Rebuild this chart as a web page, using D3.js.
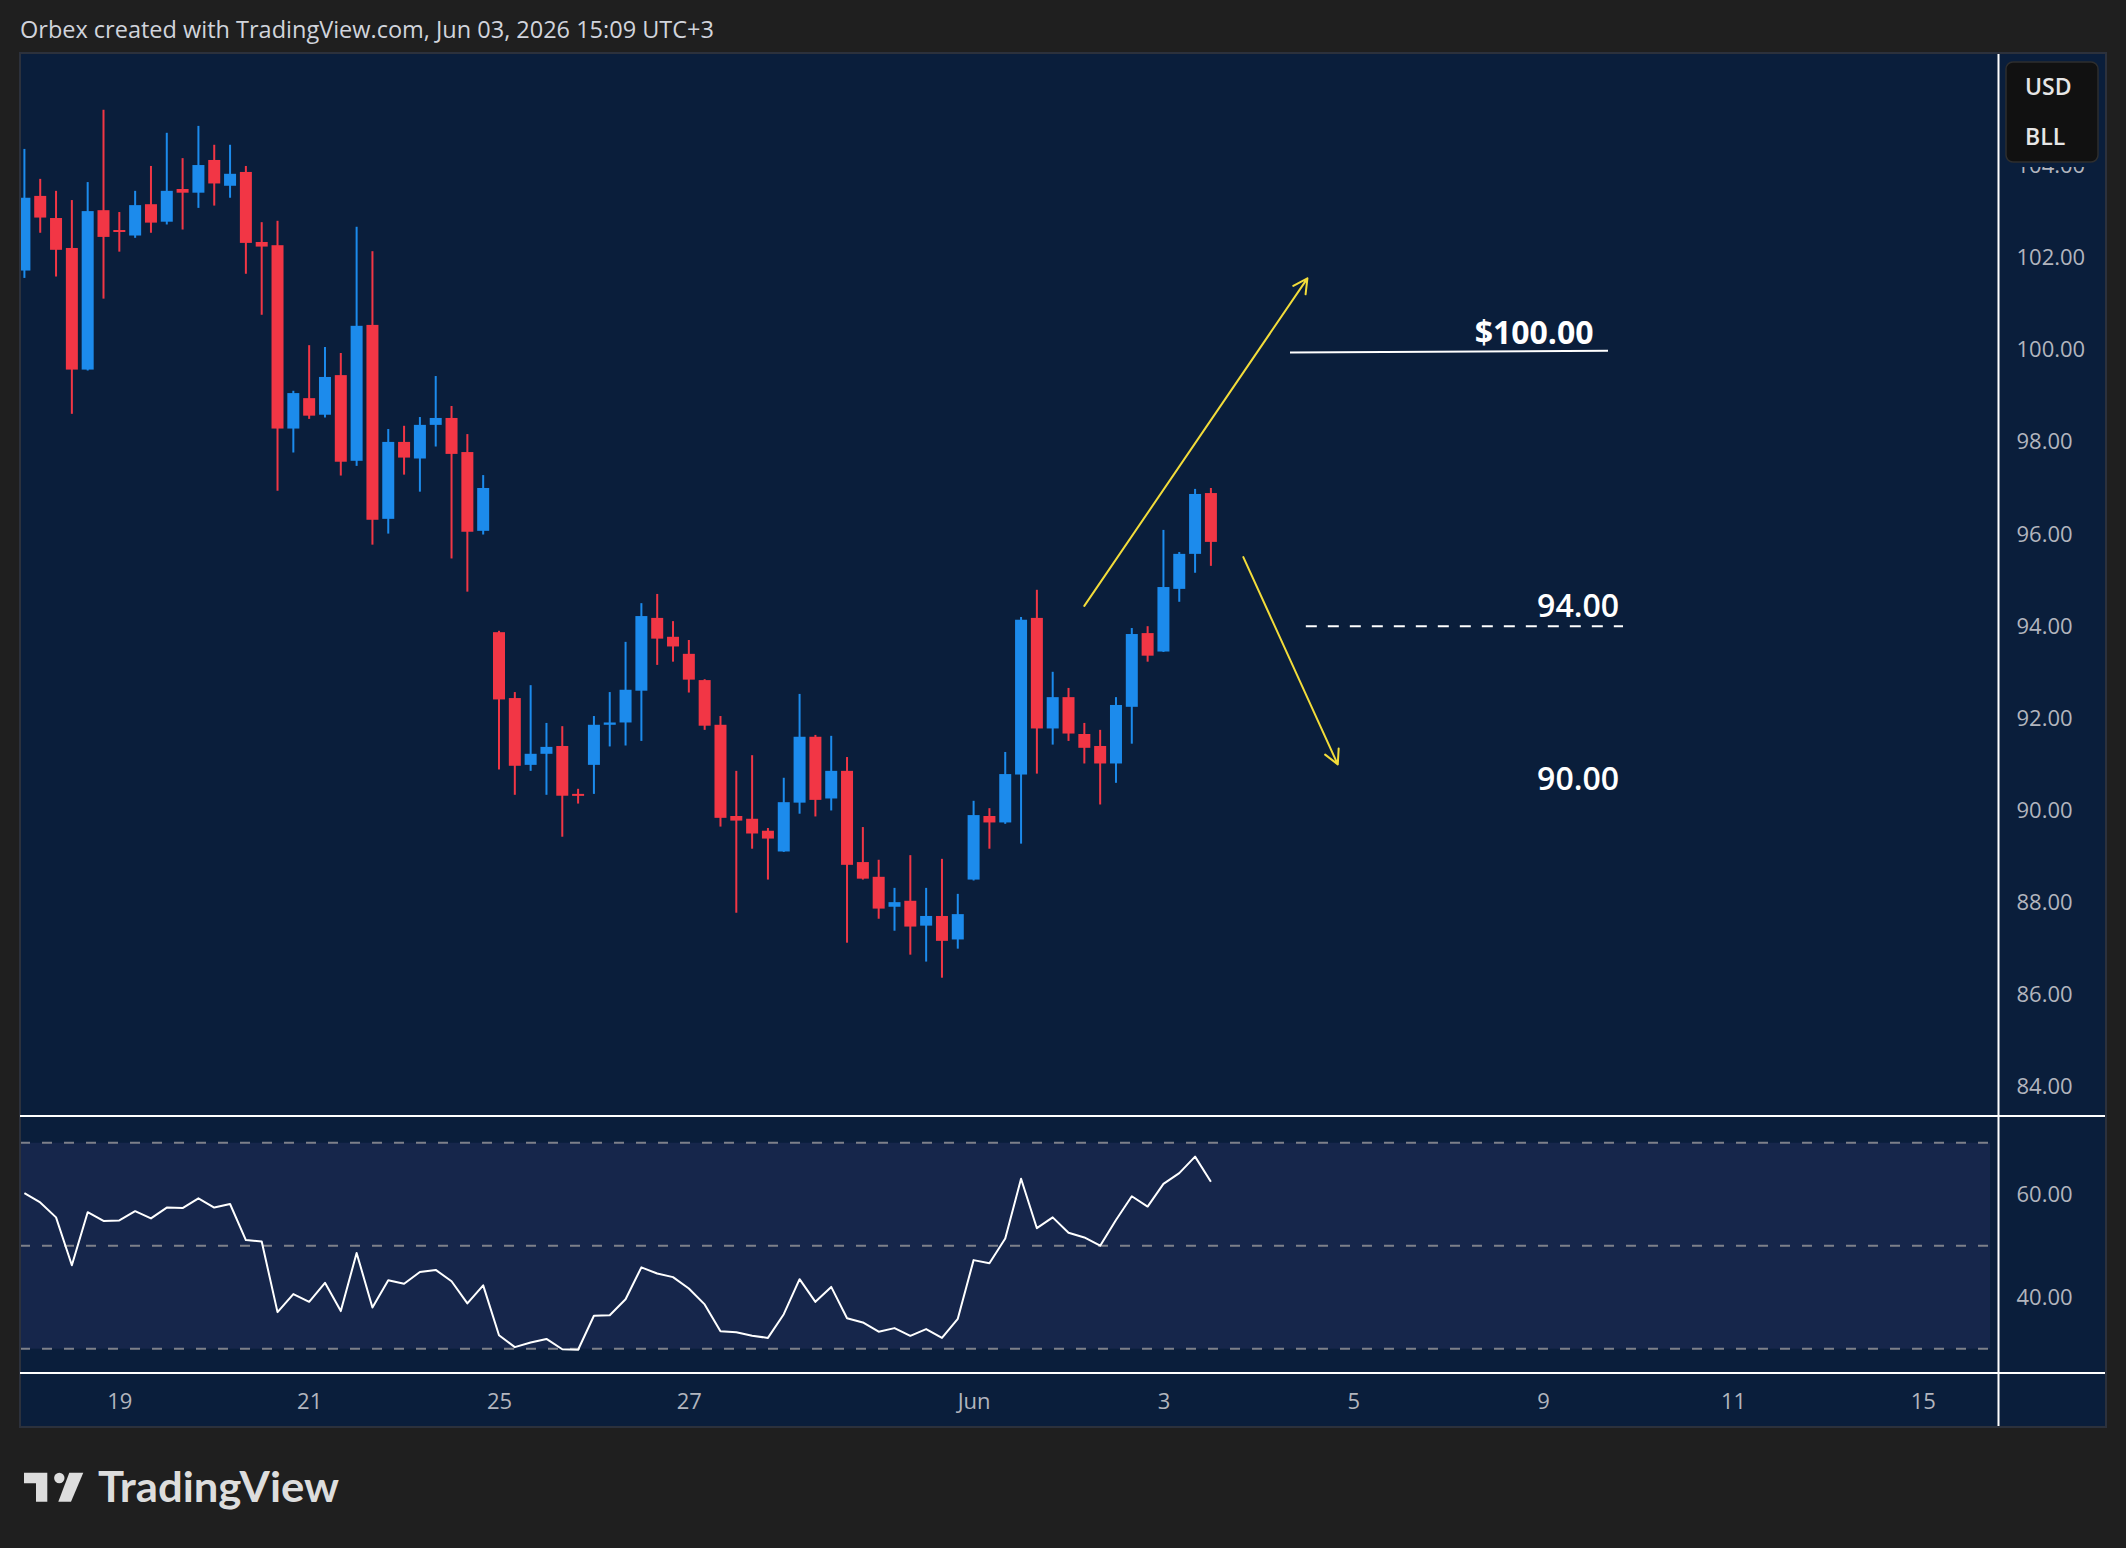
<!DOCTYPE html>
<html>
<head>
<meta charset="utf-8">
<title>BLL/USD 4H</title>
<script src="https://cdn.jsdelivr.net/npm/d3@7"></script>
<style>
  html, body { margin: 0; padding: 0; background: #1f1f1f; }
  svg { display: block; }
</style>
</head>
<body>
<svg id="chart"></svg>
<script>

// 4h candles, May 18 -> Jun 3
const candleOpen = [101.72,103.34,102.86,102.21,99.57,103.03,102.60,102.48,103.16,102.78,
  103.49,103.41,104.12,103.56,103.86,102.34,102.27,98.29,98.95,98.59,
  99.45,97.59,100.54,96.33,98.00,97.64,98.37,98.52,97.78,96.07,
  93.87,92.44,90.99,91.23,91.40,90.36,90.99,91.86,91.91,92.60,
  94.18,93.77,93.40,92.83,91.86,89.88,89.82,89.56,89.11,90.17,
  91.60,90.26,90.86,88.88,88.56,87.91,88.04,87.50,87.71,87.20,
  88.50,89.88,89.74,90.78,94.18,91.78,92.46,91.66,91.40,91.02,
  92.25,93.85,93.45,94.81,95.57,96.89];
const candleHigh = [104.36,103.71,103.45,103.25,103.64,105.21,102.99,103.45,103.99,104.71,
  104.16,104.86,104.45,104.45,103.99,102.77,102.80,99.11,100.10,100.06,
  99.93,102.67,102.14,98.28,98.35,98.54,99.43,98.78,98.17,97.28,
  93.90,92.57,92.72,91.90,91.83,90.47,92.05,92.57,93.66,94.50,
  94.70,94.11,93.70,92.85,92.05,90.86,91.20,89.62,90.71,92.53,
  91.64,91.62,91.16,89.64,88.93,88.32,89.03,88.32,88.95,88.19,
  90.21,90.05,91.27,94.20,94.79,93.01,92.66,91.90,91.75,92.46,
  93.96,94.00,96.09,95.61,96.98,97.00];
const candleLow = [101.56,102.54,101.59,98.61,99.55,101.11,102.13,102.43,102.54,102.72,
  102.61,103.08,103.13,103.30,101.65,100.76,96.94,97.77,98.50,98.53,
  97.27,97.48,95.77,96.01,97.29,96.92,97.90,95.47,94.75,95.99,
  90.89,90.34,90.86,90.34,89.43,90.15,90.36,91.39,91.41,91.51,
  93.16,93.23,92.56,91.75,89.65,87.78,89.17,88.50,89.10,89.93,
  89.87,90.00,87.13,88.50,87.65,87.39,86.87,86.72,86.37,87.00,
  88.48,89.17,89.71,89.28,90.80,91.43,91.51,91.02,90.13,90.60,
  91.45,93.23,93.44,94.53,95.16,95.31];
const candleClose = [103.30,102.87,102.17,99.57,103.01,102.45,102.56,103.14,102.76,103.45,
  103.41,104.01,103.61,103.82,102.32,102.24,98.29,99.06,98.57,99.41,
  97.57,100.52,96.31,98.00,97.66,98.37,98.52,97.74,96.05,97.00,
  92.41,90.97,91.23,91.38,90.32,90.32,91.86,91.91,92.62,94.22,
  93.73,93.56,92.84,91.84,89.84,89.78,89.50,89.39,90.18,91.60,
  90.23,90.86,88.82,88.52,87.87,88.01,87.48,87.71,87.17,87.75,
  89.90,89.74,90.79,94.14,91.78,92.46,91.67,91.36,91.02,92.29,
  93.83,93.36,94.85,95.57,96.87,95.83];

// RSI(14), one value per candle
const rsiValues = [60.2,58.4,55.5,46.2,56.5,54.8,54.9,56.7,55.3,57.4,
  57.3,59.2,57.4,58.1,51.1,50.8,37.1,40.6,39.1,42.8,
  37.3,48.6,38.0,43.3,42.6,44.9,45.3,43.1,38.8,42.3,
  32.6,30.3,31.2,31.9,29.9,29.8,36.4,36.5,39.6,45.8,
  44.6,43.9,41.7,38.6,33.4,33.2,32.5,32.1,36.7,43.5,
  39.1,42.0,35.9,35.1,33.3,34.0,32.5,33.8,32.1,35.8,
  47.2,46.6,51.4,63.0,53.4,55.5,52.5,51.6,50.0,55.0,
  59.6,57.6,62.0,64.1,67.3,62.4];

const dateTickIndex = [6, 18, 30, 42, 60, 72, 84, 96, 108, 120];
const dateTickLabels = ["19", "21", "25", "27", "Jun", "3", "5", "9", "11", "15"];
const priceTicks = [84, 86, 88, 90, 92, 94, 96, 98, 100, 102, 104];
const rsiTicks = [40, 60];
const rsiBands = [70, 50, 30];

// drawings, in [bar index, price]
const arrowStarts = [[67.0, 94.44], [77.05, 95.50]];
const arrowEnds = [[81.1, 101.55], [83.02, 91.0]];
const levelStarts = [[80.0, 99.94], [81.0, 94.0]];
const levelEnds = [[100.1, 99.98], [101.05, 94.0]];
const levelLabels = ["$100.00", "94.00", "90.00"];
const levelLabelAt = [[99.19, 100.13], [100.8, 94.19], [100.8, 90.45]];

let width = 2126, height = 1548;
let frameL = 20, frameT = 53, frameR = 2106, frameB = 1427;
let axisX = 1998.5;
let paneBottom = 1116, rsiBottom = 1373;

let upColor = "#1c8bec", downColor = "#f23645";
let navy = "#0a1e3b";
let fontFam = "'Open Sans', 'Noto Sans', sans-serif";

let svg = d3.select("#chart")
  .attr("width", width)
  .attr("height", height)
  .attr("viewBox", [0, 0, width, height]);

svg.append("rect")
  .attr("width", width).attr("height", height)
  .attr("fill", "#1f1f1f");

// title
svg.append("text")
  .attr("x", 20).attr("y", 38)
  .attr("fill", "#d1d4dc")
  .style("font-family", fontFam)
  .style("font-size", "23.5px")
  .text("Orbex created with TradingView.com, Jun 03, 2026 15:09 UTC+3");

// chart frame
svg.append("rect")
  .attr("x", frameL).attr("y", frameT)
  .attr("width", frameR - frameL).attr("height", frameB - frameT)
  .attr("fill", navy)
  .attr("stroke", "#2c313c")
  .attr("stroke-width", 2);

let x = d3.scaleLinear().domain([0, 75]).range([24.4, 1210.9]);
let y = d3.scaleLinear().domain([83.368, 106.442]).range([paneBottom, frameT]);
let yRsi = d3.scaleLinear().domain([30, 70]).range([1348.7, 1142.7]);

let defs = svg.append("defs");
defs.append("clipPath").attr("id", "clipMain")
  .append("rect")
  .attr("x", frameL + 1).attr("y", frameT + 1)
  .attr("width", axisX - 1 - frameL - 1).attr("height", paneBottom - frameT - 2);
defs.append("clipPath").attr("id", "clipRsi")
  .append("rect")
  .attr("x", frameL + 1).attr("y", paneBottom + 1)
  .attr("width", axisX - 1 - frameL - 1).attr("height", rsiBottom - paneBottom - 2);

// ---- candles
let candles = d3.range(candleOpen.length).map(i => ({
  i: i, o: candleOpen[i], h: candleHigh[i], l: candleLow[i], c: candleClose[i]
}));

let main = svg.append("g").attr("clip-path", "url(#clipMain)");

let bar = main.selectAll(".candle")
  .data(candles)
  .join("g")
  .attr("class", "candle")
  .attr("fill", d => d.c >= d.o ? upColor : downColor);

bar.append("rect")
  .attr("x", d => x(d.i) - 1)
  .attr("width", 2)
  .attr("y", d => y(d.h))
  .attr("height", d => y(d.l) - y(d.h));

bar.append("rect")
  .attr("x", d => x(d.i) - 6)
  .attr("width", 12)
  .attr("y", d => y(Math.max(d.o, d.c)))
  .attr("height", d => Math.max(2, Math.abs(y(d.o) - y(d.c))));

// ---- drawings
let draw = main.append("g");

levelStarts.forEach((s, k) => {
  draw.append("line")
    .attr("x1", x(s[0])).attr("y1", y(s[1]))
    .attr("x2", x(levelEnds[k][0])).attr("y2", y(levelEnds[k][1]))
    .attr("stroke", "#ffffff")
    .attr("stroke-width", 2)
    .attr("stroke-dasharray", k == 1 ? "11,11" : null);
});

levelLabels.forEach((t, k) => {
  draw.append("text")
    .attr("x", x(levelLabelAt[k][0]))
    .attr("y", y(levelLabelAt[k][1]))
    .attr("text-anchor", "end")
    .attr("fill", "#ffffff")
    .style("font-family", fontFam)
    .style("font-weight", k == 0 ? 700 : 600)
    .style("font-size", "32px")
    .text(t);
});

arrowStarts.forEach((s, k) => {
  let x1 = x(s[0]), y1 = y(s[1]);
  let x2 = x(arrowEnds[k][0]), y2 = y(arrowEnds[k][1]);
  let ang = Math.atan2(y1 - y2, x1 - x2);
  let head = 16, spread = Math.PI / 6.5;
  let p = d3.path();
  p.moveTo(x1, y1);
  p.lineTo(x2, y2);
  p.moveTo(x2 + head * Math.cos(ang - spread), y2 + head * Math.sin(ang - spread));
  p.lineTo(x2, y2);
  p.lineTo(x2 + head * Math.cos(ang + spread), y2 + head * Math.sin(ang + spread));
  draw.append("path")
    .attr("d", p.toString())
    .attr("fill", "none")
    .attr("stroke", "#f2dc3a")
    .attr("stroke-width", 2)
    .attr("stroke-linecap", "round")
    .attr("stroke-linejoin", "round");
});

// ---- RSI pane
let rsi = svg.append("g").attr("clip-path", "url(#clipRsi)");

rsi.append("rect")
  .attr("x", frameL)
  .attr("width", 1990 - frameL)
  .attr("y", yRsi(70))
  .attr("height", yRsi(30) - yRsi(70))
  .attr("fill", "#16264b");

rsi.selectAll(".band")
  .data(rsiBands)
  .join("line")
  .attr("class", "band")
  .attr("x1", frameL).attr("x2", 1990)
  .attr("y1", d => yRsi(d)).attr("y2", d => yRsi(d))
  .attr("stroke", "#7d808a")
  .attr("stroke-width", 2)
  .attr("stroke-dasharray", "10,12");

rsi.append("path")
  .datum(rsiValues)
  .attr("d", d3.line().x((d, i) => x(i)).y(d => yRsi(d)))
  .attr("fill", "none")
  .attr("stroke", "#ffffff")
  .attr("stroke-width", 2)
  .attr("stroke-linejoin", "round");

// ---- separators
svg.append("line")
  .attr("x1", frameL).attr("x2", frameR - 1)
  .attr("y1", paneBottom).attr("y2", paneBottom)
  .attr("stroke", "#ffffff").attr("stroke-width", 2);
svg.append("line")
  .attr("x1", frameL).attr("x2", frameR - 1)
  .attr("y1", rsiBottom).attr("y2", rsiBottom)
  .attr("stroke", "#ffffff").attr("stroke-width", 2);
svg.append("line")
  .attr("x1", axisX).attr("x2", axisX)
  .attr("y1", frameT + 1).attr("y2", frameB - 1)
  .attr("stroke", "#ffffff").attr("stroke-width", 2);

// ---- axes
function styleAxis(g) {
  g.select(".domain").remove();
  g.selectAll(".tick line").remove();
  g.selectAll("text")
    .attr("fill", "#b2b5be")
    .style("font-family", fontFam)
    .style("font-size", "22px");
}

svg.append("g")
  .attr("transform", `translate(${axisX + 9},0)`)
  .call(d3.axisRight(y).tickValues(priceTicks).tickSize(0).tickPadding(9)
    .tickFormat(d => d.toFixed(2)))
  .call(styleAxis);

svg.append("g")
  .attr("transform", `translate(${axisX + 9},0)`)
  .call(d3.axisRight(yRsi).tickValues(rsiTicks).tickSize(0).tickPadding(9)
    .tickFormat(d => d.toFixed(2)))
  .call(styleAxis);

svg.append("g")
  .attr("transform", `translate(0,${rsiBottom})`)
  .call(d3.axisBottom(x).tickValues(dateTickIndex).tickSize(0).tickPadding(20)
    .tickFormat((d, i) => dateTickLabels[i]))
  .call(styleAxis);

// ---- symbol box (sits over the top price label)
let box = svg.append("g");
box.append("rect")
  .attr("x", 2001).attr("y", 56)
  .attr("width", 103).attr("height", 111)
  .attr("fill", navy);
box.append("rect")
  .attr("x", 2006).attr("y", 62)
  .attr("width", 92).attr("height", 100)
  .attr("rx", 7)
  .attr("fill", "#111111")
  .attr("stroke", "#2e2e2e")
  .attr("stroke-width", 1.5);
box.selectAll("text")
  .data(["USD", "BLL"])
  .join("text")
  .attr("x", 2025)
  .attr("y", (d, i) => 95 + i * 50)
  .attr("fill", "#e6e6e6")
  .style("font-family", fontFam)
  .style("font-weight", 600)
  .style("font-size", "23px")
  .text(d => d);

// ---- TradingView mark
let logo = svg.append("g").attr("fill", "#dddddd");
logo.append("path")
  .attr("d", "M24,1472.7 H47.3 V1501.7 H36 V1483.3 H24 Z");
logo.append("circle")
  .attr("cx", 59.3).attr("cy", 1478).attr("r", 5.2);
logo.append("path")
  .attr("d", "M69.3,1472.7 H83.3 L71,1501.7 H58.3 Z");
logo.append("text")
  .attr("x", 98).attr("y", 1501.7)
  .attr("textLength", 241)
  .attr("lengthAdjust", "spacingAndGlyphs")
  .style("font-family", "Lato, 'Open Sans', sans-serif")
  .style("font-weight", 700)
  .style("font-size", "42px")
  .text("TradingView");

</script>
</body>
</html>
